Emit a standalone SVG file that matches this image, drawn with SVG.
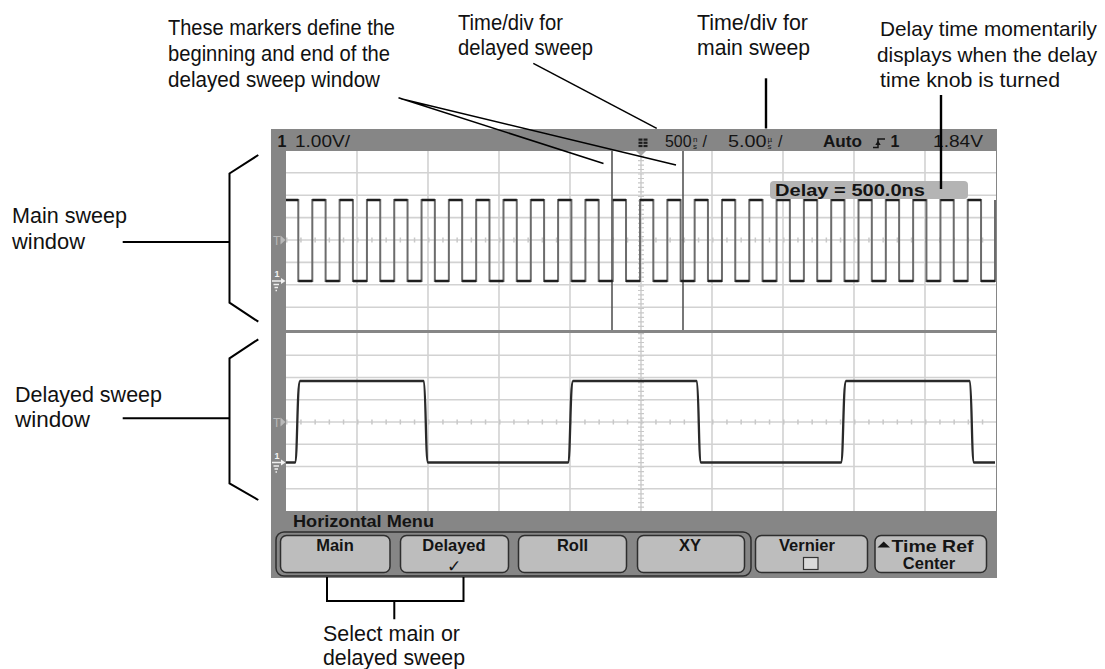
<svg xmlns="http://www.w3.org/2000/svg" width="1105" height="669" viewBox="0 0 1105 669">
<style>
.lbl{font-family:"Liberation Sans",Arial,sans-serif;font-size:22.5px;fill:#111}
.lbr{font-family:"Liberation Sans",Arial,sans-serif;font-size:21px;fill:#111}
.scr{font-family:"Liberation Sans",Arial,sans-serif;font-size:16px;fill:#141414}
.scrb{font-family:"Liberation Sans",Arial,sans-serif;font-size:16px;font-weight:bold;fill:#141414}
.unit{font-family:"Liberation Sans",Arial,sans-serif;font-size:8px;fill:#141414}
.btn{fill:#bdbdbd;stroke:#2e2e2e;stroke-width:1.5}
.btxt{font-family:"Liberation Sans",Arial,sans-serif;font-size:16.5px;font-weight:bold;fill:#141414;text-anchor:middle}
.grid{stroke:#d2d2d2;stroke-width:1.6;fill:none}
.mark{fill:#b9b9b9}
.gnd{stroke:#efefef;stroke-width:1.3;fill:none}
.conn{stroke:#000;fill:none}
</style>
<rect width="1105" height="669" fill="#fff"/>

<g id="screen">
  <rect x="271" y="129" width="726" height="449" fill="#868686"/>
  <rect x="286" y="151" width="710" height="179" fill="#fff"/>
  <rect x="286" y="333" width="710" height="178" fill="#fff"/>
  <path class="grid" d="M357,151V330M428,151V330M499,151V330M570,151V330M641,151V330M712,151V330M783,151V330M854,151V330M925,151V330
    M286,172.8H996M286,195.2H996M286,217.6H996M286,240H996M286,262.4H996M286,284.8H996M286,307.2H996"/>
  <path class="grid" d="M357,333V511M428,333V511M499,333V511M570,333V511M641,333V511M712,333V511M783,333V511M854,333V511M925,333V511
    M286,355.3H996M286,377.5H996M286,399.8H996M286,422H996M286,444.3H996M286,466.5H996M286,488.8H996"/>
  <line x1="641" y1="151" x2="641" y2="330" stroke="#c8c8c8" stroke-width="6" stroke-dasharray="1.2 3.28"/>
  <line x1="641" y1="333" x2="641" y2="511" stroke="#c8c8c8" stroke-width="6" stroke-dasharray="1.2 3.25"/>
  <line x1="286" y1="240" x2="996" y2="240" stroke="#c8c8c8" stroke-width="5" stroke-dasharray="1.5 12.7"/>
  <line x1="286" y1="422" x2="996" y2="422" stroke="#c8c8c8" stroke-width="5" stroke-dasharray="1.5 12.7"/>
  <polygon points="636,151 646,151 641,156" fill="#a8a8a8"/>
  <line x1="612" y1="151" x2="612" y2="330" stroke="#555" stroke-width="1.6"/>
  <line x1="683" y1="151" x2="683" y2="330" stroke="#555" stroke-width="1.6"/>
  <path d="M286,200H298.3V281 h14.01v-81h13.3v81 h14.01v-81h13.3v81 h14.01v-81h13.3v81 h14.01v-81h13.3v81 h14.01v-81h13.3v81 h14.01v-81h13.3v81 h14.01v-81h13.3v81 h14.01v-81h13.3v81 h14.01v-81h13.3v81 h14.01v-81h13.3v81 h14.01v-81h13.3v81 h14.01v-81h13.3v81 h14.01v-81h13.3v81 h14.01v-81h13.3v81 h14.01v-81h13.3v81 h14.01v-81h13.3v81 h14.01v-81h13.3v81 h14.01v-81h13.3v81 h14.01v-81h13.3v81 h14.01v-81h13.3v81 h14.01v-81h13.3v81 h14.01v-81h13.3v81 h14.01v-81h13.3v81 h14.01v-81h13.3v81 h14.01v-81h13.3v81 H995V200" fill="none" stroke="#6c6c6c" stroke-width="2"/>
  <line x1="286" y1="200" x2="995" y2="200" stroke="#1e1e1e" stroke-width="2.6" stroke-dasharray="13.3 14.01" stroke-dashoffset="1"/>
  <line x1="298.3" y1="281" x2="995" y2="281" stroke="#1e1e1e" stroke-width="2.6" stroke-dasharray="14.01 13.3"/>
  <path d="M286,462.5H295C297.5,462 297,382 300,381H423.5C426,382 425.5,462 428,462.5H568C570.5,462 570,382 573,381H696.5C699,382 698.5,462 701,462.5H841C843.5,462 843,382 846,381H969.5C972,382 971.5,462 974,462.5H995" fill="none" stroke="#2a2a2a" stroke-width="2.3"/>
  <text x="273" y="244.5" font-family="Liberation Sans,Arial,sans-serif" font-size="12" class="mark">T</text>
  <polygon class="mark" points="280.5,235.5 285.5,240 280.5,244.5"/>
  <text x="274.5" y="277" font-family="Liberation Sans,Arial,sans-serif" font-size="9" font-weight="bold" fill="#f2f2f2">1</text>
  <path class="gnd" d="M272,281H282M273.5,284.5H279M274.5,287.5H278M275.5,290.5H277"/>
  <polygon points="281,278 285.5,281 281,284" fill="#f2f2f2"/>
  <text x="273" y="426.5" font-family="Liberation Sans,Arial,sans-serif" font-size="12" class="mark">T</text>
  <polygon class="mark" points="280.5,417.5 285.5,422 280.5,426.5"/>
  <text x="274.5" y="458.5" font-family="Liberation Sans,Arial,sans-serif" font-size="9" font-weight="bold" fill="#f2f2f2">1</text>
  <path class="gnd" d="M272,462.5H282M273.5,466H279M274.5,469H278M275.5,472H277"/>
  <polygon points="281,459.5 285.5,462.5 281,465.5" fill="#f2f2f2"/>
  <text x="277.5" y="146.5" class="scrb" font-size="17">1</text>
  <text x="295" y="146.5" class="scr" textLength="55" lengthAdjust="spacingAndGlyphs">1.00V/</text>
  <g fill="#1e1e1e">
    <rect x="638.5" y="138.5" width="4" height="2.2"/><rect x="643.5" y="138.5" width="4" height="2.2"/>
    <rect x="638.5" y="141.7" width="4" height="2.2"/><rect x="643.5" y="141.7" width="4" height="2.2"/>
    <rect x="638.5" y="144.9" width="4" height="2.2"/><rect x="643.5" y="144.9" width="4" height="2.2"/>
  </g>
  <text x="665" y="146.5" class="scr" textLength="26.5" lengthAdjust="spacingAndGlyphs">500</text>
  <text x="693" y="141.5" class="unit">n</text>
  <text x="693" y="148.5" class="unit">s</text>
  <text x="702.5" y="146.5" class="scr">/</text>
  <text x="728" y="146.5" class="scr" textLength="38.5" lengthAdjust="spacingAndGlyphs">5.00</text>
  <text x="767.5" y="141.5" class="unit">µ</text>
  <text x="767.5" y="148.5" class="unit">s</text>
  <text x="778" y="146.5" class="scr">/</text>
  <text x="823" y="146.5" class="scrb" textLength="39" lengthAdjust="spacingAndGlyphs">Auto</text>
  <path d="M873,147.5H878V139H885" fill="none" stroke="#141414" stroke-width="1.5"/>
  <polygon points="875.3,145 880.7,145 878,140.5" fill="#141414"/>
  <text x="890.5" y="146.5" class="scrb" font-size="17">1</text>
  <text x="933" y="146.5" class="scr" textLength="50" lengthAdjust="spacingAndGlyphs">1.84V</text>
  <rect x="770" y="181" width="198" height="18" rx="4" fill="#b4b4b4"/>
  <text x="775" y="195.5" class="scrb" textLength="150" lengthAdjust="spacingAndGlyphs">Delay = 500.0ns</text>
</g>

<g id="menu">
  <text x="293" y="527" class="scrb" textLength="141" lengthAdjust="spacingAndGlyphs">Horizontal Menu</text>
  <rect x="276" y="532" width="475" height="44" rx="8" fill="none" stroke="#2e2e2e" stroke-width="1.5"/>
  <g id="btn-main"><rect class="btn" x="280.5" y="535.5" width="109.5" height="37" rx="6"/><text class="btxt" x="335" y="551">Main</text></g>
  <g id="btn-delayed"><rect class="btn" x="400.5" y="535.5" width="108" height="37" rx="6"/><text class="btxt" x="454" y="551">Delayed</text><text x="454" y="571.5" font-family="DejaVu Sans,sans-serif" font-size="17" font-weight="bold" fill="#141414" text-anchor="middle">✓</text></g>
  <g id="btn-roll"><rect class="btn" x="518.5" y="535.5" width="108" height="37" rx="6"/><text class="btxt" x="572.5" y="551">Roll</text></g>
  <g id="btn-xy"><rect class="btn" x="637.5" y="535.5" width="107" height="37" rx="6"/><text class="btxt" x="690" y="551">XY</text></g>
  <g id="btn-vernier"><rect class="btn" x="755.5" y="535.5" width="112" height="37" rx="6"/><text class="btxt" x="807" y="551">Vernier</text><rect x="803.5" y="557.5" width="14.5" height="12" fill="#dadada" stroke="#333" stroke-width="1.2"/></g>
  <g id="btn-timeref"><rect class="btn" x="875" y="535.5" width="111.5" height="37" rx="6"/><polygon points="877.5,547.5 890,547.5 883.7,541.5" fill="#141414"/><text class="btxt" x="891.5" y="552" style="text-anchor:start" textLength="82" lengthAdjust="spacingAndGlyphs">Time Ref</text><text class="btxt" x="929" y="568.5">Center</text></g>
</g>

<g id="label-markers">
  <text class="lbl" x="168" y="35" textLength="227" lengthAdjust="spacingAndGlyphs">These markers define the</text>
  <text class="lbl" x="168" y="61" textLength="222" lengthAdjust="spacingAndGlyphs">beginning and end of the</text>
  <text class="lbl" x="168" y="87" textLength="212" lengthAdjust="spacingAndGlyphs">delayed sweep window</text>
</g>
<g id="label-delayed-timediv">
  <text class="lbl" x="458" y="29.5" textLength="105" lengthAdjust="spacingAndGlyphs">Time/div for</text>
  <text class="lbl" x="458" y="55" textLength="135" lengthAdjust="spacingAndGlyphs">delayed sweep</text>
</g>
<g id="label-main-timediv">
  <text class="lbl" x="697" y="29.5" textLength="111" lengthAdjust="spacingAndGlyphs">Time/div for</text>
  <text class="lbl" x="697" y="55" textLength="113" lengthAdjust="spacingAndGlyphs">main sweep</text>
</g>
<g id="label-delay-time">
  <text class="lbr" x="880" y="35.5" textLength="217" lengthAdjust="spacingAndGlyphs">Delay time momentarily</text>
  <text class="lbr" x="877" y="61.5" textLength="220" lengthAdjust="spacingAndGlyphs">displays when the delay</text>
  <text class="lbr" x="880" y="87.3" textLength="180" lengthAdjust="spacingAndGlyphs">time knob is turned</text>
</g>
<g id="label-main-window">
  <text class="lbl" x="12" y="223.3" textLength="115" lengthAdjust="spacingAndGlyphs">Main sweep</text>
  <text class="lbl" x="12" y="249.3" textLength="73" lengthAdjust="spacingAndGlyphs">window</text>
</g>
<g id="label-delayed-window">
  <text class="lbl" x="15" y="401.7" textLength="147" lengthAdjust="spacingAndGlyphs">Delayed sweep</text>
  <text class="lbl" x="15" y="427.3" textLength="75" lengthAdjust="spacingAndGlyphs">window</text>
</g>
<g id="label-select">
  <text class="lbl" x="323" y="640.7" textLength="137" lengthAdjust="spacingAndGlyphs">Select main or</text>
  <text class="lbl" x="323" y="665" textLength="142" lengthAdjust="spacingAndGlyphs">delayed sweep</text>
</g>

<g id="connectors" class="conn">
  <path d="M398.5,97.7L603.5,163.5M401,98.8L676,165" stroke-width="1.5"/>
  <path d="M533.3,63.3L656.7,128.3" stroke-width="1.5"/>
  <path d="M766,78.3V128.5" stroke-width="2.4"/>
  <path d="M941,95V189" stroke-width="2.4"/>
  <path d="M258.3,155L229.5,173.5V302.7L258.3,321.7M122.7,242H229.5" stroke-width="2"/>
  <path d="M258.3,339.3L229.5,358.3V483.3L258.3,500M122.7,418.3H229.5" stroke-width="2"/>
  <path d="M327,577V601H463.5V577M394.3,601V619.3" stroke-width="2"/>
</g>
</svg>
